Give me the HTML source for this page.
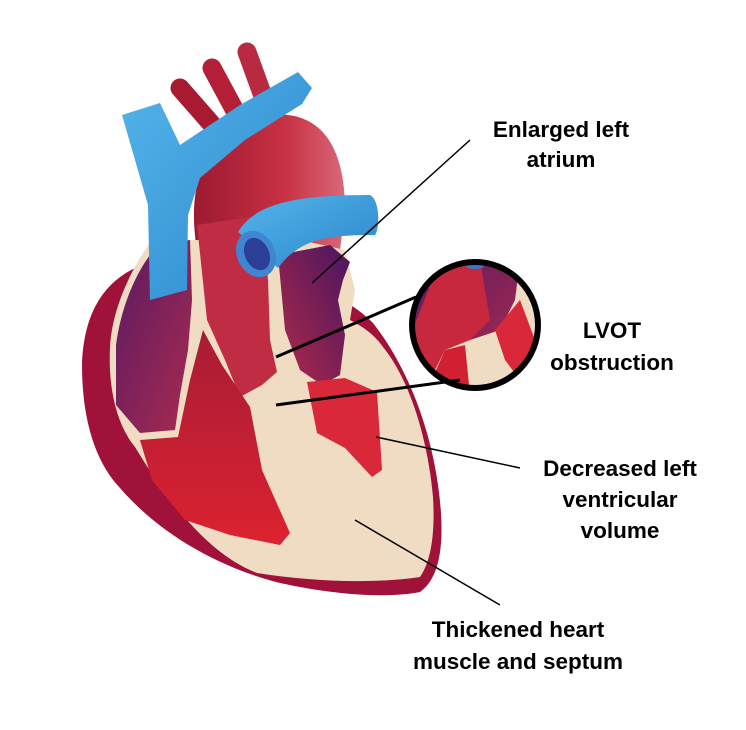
<!DOCTYPE html>
<html><head><meta charset="utf-8"><style>
html,body{margin:0;padding:0;background:#fff;}
svg{display:block}
text{font-family:"Liberation Sans",Arial,sans-serif;font-weight:bold;font-size:22.5px;fill:#000;text-anchor:middle}
</style></head><body>
<svg width="746" height="730" viewBox="0 0 746 730">
<defs>
<linearGradient id="blue" x1="0" y1="0" x2="1" y2="1"><stop offset="0" stop-color="#55b4ea"/><stop offset="1" stop-color="#2a86cc"/></linearGradient>
<linearGradient id="red" x1="0" y1="0" x2="1" y2="0"><stop offset="0" stop-color="#9c1a30"/><stop offset=".6" stop-color="#c83044"/><stop offset="1" stop-color="#d86878"/></linearGradient>
<linearGradient id="purp" x1="0" y1="0" x2="1" y2="1"><stop offset="0" stop-color="#5a1a62"/><stop offset="1" stop-color="#a82a50"/></linearGradient>
<linearGradient id="purp2" x1="1" y1="0" x2="0" y2="1"><stop offset="0" stop-color="#4a1560"/><stop offset="1" stop-color="#b02a48"/></linearGradient>
<linearGradient id="rv" x1="0" y1="0" x2="0" y2="1"><stop offset="0" stop-color="#a81c36"/><stop offset="1" stop-color="#dc2230"/></linearGradient>
<clipPath id="cc"><circle cx="475" cy="325" r="62"/></clipPath>
</defs>
<g stroke-linecap="round" stroke-width="19" fill="none">
<line x1="180" y1="88" x2="215" y2="128" stroke="#a81a30"/>
<line x1="212" y1="68" x2="240" y2="120" stroke="#b41e36"/>
<line x1="247" y1="52" x2="268" y2="110" stroke="#b82a40"/>
</g>
<path d="M195,235 C188,170 215,125 270,115 C320,110 345,145 345,210 L340,250 L280,245 L268,300 L200,300 Z" fill="url(#red)"/>
<!-- outer heart -->
<path d="M150,262 C110,275 84,305 82,365 C82,425 98,465 120,488 C165,540 228,570 280,583 C340,596 390,598 420,592 C440,578 443,545 441,513 C436,440 410,370 373,323 C360,310 345,300 330,295 L200,250 Z" fill="#a0123a"/>
<!-- beige interior -->
<path d="M152,240 C130,270 112,310 110,347 C108,390 117,425 135,447 C170,505 210,555 257,573 C320,583 380,583 420,577 C432,560 435,530 433,497 C428,440 410,380 383,347 C375,335 362,326 350,320 L355,290 L345,250 L300,240 Z" fill="#efdcc3"/>
<path d="M158,245 L190,240 L192,300 L188,350 L180,395 L175,430 L140,433 L116,405 L116,345 C122,300 140,265 158,245 Z" fill="url(#purp)"/>
<path d="M197,225 L262,215 L268,280 L270,340 L277,372 L262,385 L240,397 L225,360 L207,320 Z" fill="#c02c44"/>
<path d="M278,255 L330,245 L350,262 L343,280 L338,300 L345,335 L340,375 L322,385 L300,370 L285,330 Z" fill="url(#purp2)"/>
<path d="M140,440 L178,437 L190,380 L203,330 L222,365 L250,407 L262,470 L290,533 L280,545 L230,535 L185,520 L152,480 Z" fill="url(#rv)"/>
<path d="M307,382 L345,378 L377,392 L382,470 L372,477 L345,448 L317,433 Z" fill="#d8283a"/>
<path d="M122,115 L160,103 L180,145 L240,105 L298,72 L312,88 L302,104 L245,140 L200,178 L188,215 L187,290 L150,300 L148,205 Z" fill="url(#blue)"/>
<path d="M238,232 C255,205 290,195 370,195 C380,200 380,228 375,235 C330,235 300,238 278,268 Z" fill="url(#blue)"/>
<ellipse cx="256" cy="254" rx="19" ry="24" transform="rotate(-25 256 254)" fill="#3f86d0"/>
<ellipse cx="257" cy="254" rx="12" ry="17" transform="rotate(-25 257 254)" fill="#2c3f96"/>
<g clip-path="url(#cc)">
<rect x="405" y="255" width="140" height="140" fill="#efdcc3"/>
<path d="M405,260 L520,260 L515,300 L500,330 L470,340 L450,330 L430,360 L410,370 Z" fill="url(#purp)"/>
<path d="M440,260 L480,260 L490,320 L470,340 L445,350 L425,390 L405,390 L405,350 Z" fill="#c8283e"/>
<path d="M495,330 L520,300 L535,340 L520,380 L505,360 Z" fill="#d8283a"/>
<path d="M425,395 L445,350 L465,345 L470,395 Z" fill="#d02032"/>
<ellipse cx="475" cy="262" rx="12" ry="7" fill="#3a78c8"/>
</g>
<circle cx="475" cy="325" r="63" fill="none" stroke="#000" stroke-width="6"/>
<g stroke="#000" fill="none">
<line x1="470" y1="140" x2="312" y2="283" stroke-width="1.5"/>
<line x1="416" y1="297" x2="276" y2="357" stroke-width="3"/>
<line x1="460" y1="380" x2="276" y2="405" stroke-width="3"/>
<line x1="376" y1="437" x2="520" y2="468" stroke-width="1.5"/>
<line x1="355" y1="520" x2="500" y2="605" stroke-width="1.5"/>
</g>
<text x="561" y="137">Enlarged left</text>
<text x="561" y="167">atrium</text>
<text x="612" y="338">LVOT</text>
<text x="612" y="370">obstruction</text>
<text x="620" y="476">Decreased left</text>
<text x="620" y="507">ventricular</text>
<text x="620" y="538">volume</text>
<text x="518" y="637">Thickened heart</text>
<text x="518" y="669">muscle and septum</text>
</svg>
</body></html>
